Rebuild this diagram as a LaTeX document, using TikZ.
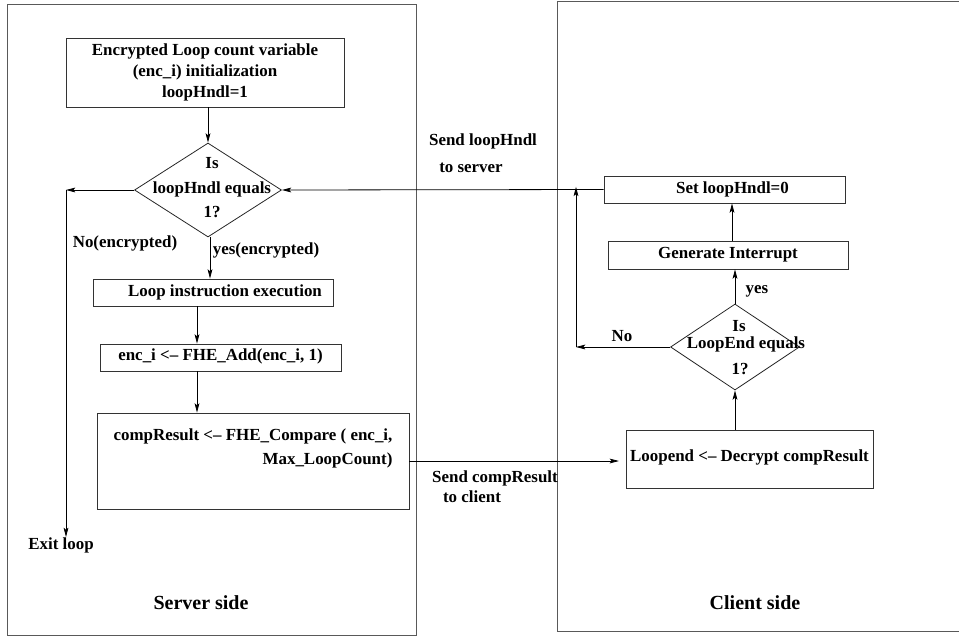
\documentclass[tikz,border=0pt]{standalone}
\usepackage{fontspec}
\setmainfont{Liberation Serif}
\usetikzlibrary{shapes.geometric,arrows.meta}

\begin{document}
\begin{tikzpicture}[x=0.75pt,y=-0.75pt,
  font=\fontsize{12.7}{15.5}\selectfont\bfseries,
  frame/.style={draw=black!65, line width=0.7pt},
  box/.style={draw=black!80, line width=0.6pt, rectangle, inner sep=0pt},
  decision/.style={draw=black!85, line width=0.6pt, diamond, inner sep=0pt},
  lbl/.style={inner sep=0pt},
  side/.style={inner sep=0pt, font=\fontsize{15}{18}\selectfont\bfseries},
  flow/.style={line width=0.6pt, -{Stealth[length=7pt,width=3.6pt,inset=1.5pt]}}]
\useasboundingbox (0,0) rectangle (959,639);
\clip (0,0) rectangle (959,639);

% server and client sides
\draw[frame] (7,4) rectangle (416,635);
\draw[frame] (557,1) rectangle (965,631);
\node[side] (srv) at (201,603) {Server side};
\node[side] (cli) at (755,603) {Client side};

% server flow
\node[box, minimum width=208.5pt, minimum height=51.75pt, align=center] (init) at (205,72.5) {Encrypted Loop count variable\\(enc\_i) initialization\\loopHndl=1};
\node[decision, minimum width=110.25pt, minimum height=70.5pt] (chk) at (208,190) {};
\node[lbl, align=center, font=\fontsize{12.7}{18.4}\selectfont\bfseries] (chktxt) at (212,188) {Is\\loopHndl equals\\1?};
\node[box, minimum width=180pt, minimum height=20.25pt] (exec) at (213,292.5) {\hspace*{18pt}Loop instruction execution};
\node[box, minimum width=180.75pt, minimum height=20.25pt] (add) at (220.5,357.5) {enc\_i <-- FHE\_Add(enc\_i, 1)\raisebox{0pt}[0pt][5pt]{}};
\node[box, minimum width=234pt, minimum height=72pt, align=right] (cmp) at (253,461) {compResult <-- FHE\_Compare ( enc\_i,\\[2.5pt]Max\_LoopCount)\\[6pt]};
\node[lbl] (exit) at (61,545) {Exit loop};
\coordinate (nl) at (66,190);
\coordinate (ax) at (197,0);

% client flow
\node[box, minimum width=185.25pt, minimum height=43.5pt] (dec) at (749.5,459) {Loopend <-- Decrypt compResult\raisebox{0pt}[0pt][5pt]{}};
\node[decision, minimum width=96.75pt, minimum height=64.5pt] (end) at (735,347) {};
\node[lbl] (endis) at (739,326) {Is};
\node[lbl] (endeq) at (746,344) {LoopEnd equals};
\node[lbl] (endone) at (740,369) {1?};
\node[box, minimum width=180pt, minimum height=21pt] (intr) at (728,255) {Generate Interrupt};
\node[box, minimum width=180.75pt, minimum height=20.25pt] (set) at (724.5,189.5) {\hspace*{12pt}Set loopHndl=0};
\coordinate (nr) at (576,347);
\coordinate (ay) at (732,0);

% labels
\node[lbl] (no) at (125,243) {No(encrypted)};
\node[lbl] (yes) at (266,250) {yes(encrypted)};
\node[lbl] (sl1) at (483,141) {Send loopHndl};
\node[lbl] (sl2) at (471,168) {to server};
\node[lbl] (sc1) at (495,478) {Send compResult};
\node[lbl] (sc2) at (472,497) {to client};
\node[lbl] (yes2) at (757,291) {yes};
\node[lbl] (no2) at (622,336) {No};

\draw[flow] (init.south -| chk.north) -- (chk.north);
\draw[flow] (chk.west) -- (nl);
\draw[flow] (nl) -- (nl |- exit.north);
\draw[flow] ([xshift=1.5pt]chk.south) -- ([xshift=1.5pt]chk.south |- exec.north);
\draw[flow] (exec.south -| ax) -- (add.north -| ax);
\draw[flow] (add.south -| ax) -- (cmp.north -| ax);
\draw[flow, shorten >=5pt] (cmp.east) -- (cmp.east -| dec.west);
\draw[flow] (end.south |- dec.north) -- (end.south);
\draw[flow] (end.north) -- (end.north |- intr.south);
\draw[flow] (intr.north -| ay) -- (set.south -| ay);
\draw[flow] (end.west) -- (nr);
\draw[flow] (nr) -- ([yshift=2pt]nr |- set.west);
\draw[flow] (set.west) -- (chk.east);
\end{tikzpicture}
\end{document}
